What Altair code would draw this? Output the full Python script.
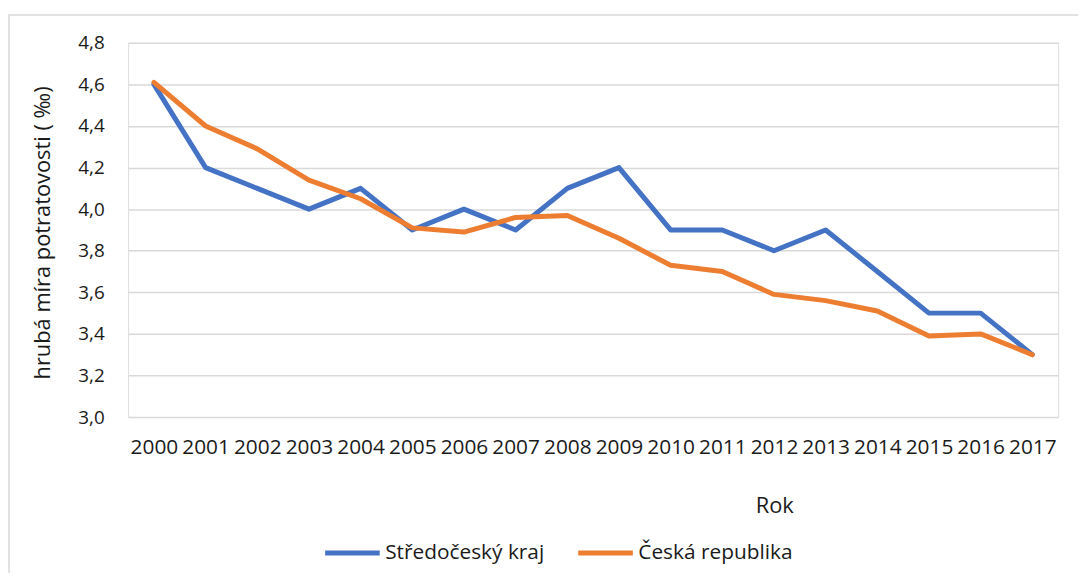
import altair as alt
import pandas as pd

years = [str(y) for y in range(2000, 2018)]
stredocesky = [4.6, 4.2, 4.1, 4.0, 4.1, 3.9, 4.0, 3.9, 4.1, 4.2, 3.9, 3.9, 3.8, 3.9, 3.7, 3.5, 3.5, 3.3]
cr = [4.61, 4.40, 4.29, 4.14, 4.05, 3.91, 3.89, 3.96, 3.97, 3.86, 3.73, 3.70, 3.59, 3.56, 3.51, 3.39, 3.40, 3.30]
series_names = ["Středočeský kraj", "Česká republika"]
series_colors = ["#4472C4", "#ED7D31"]
y_ticks = [3.0, 3.2, 3.4, 3.6, 3.8, 4.0, 4.2, 4.4, 4.6, 4.8]

rows = []
for name, vals in zip(series_names, [stredocesky, cr]):
    for i, (yr, v) in enumerate(zip(years, vals)):
        rows.append({"Rok": yr, "value": v, "series": name, "order": i})
df = pd.DataFrame(rows)

FONT = "Open Sans"
TXT = "#1a1a1a"

frame = alt.Chart(pd.DataFrame({"a": [0]})).mark_rect(
    filled=False, stroke="#d9d9d9", strokeWidth=1.5
).encode(
    x=alt.value(-120), x2=alt.value(1000), y=alt.value(-28), y2=alt.value(620)
)

lines = alt.Chart(df).mark_line(strokeWidth=5, strokeJoin="round", strokeCap="round").encode(
    x=alt.X("Rok:O", sort=years, scale=alt.Scale(padding=0.5),
            axis=alt.Axis(title="Rok", labelAngle=0, ticks=False, tickSize=0, domain=False,
                          labelPadding=20, labelFontSize=21, labelFont=FONT, labelColor=TXT,
                          titleFont=FONT, titleFontSize=22, titleFontWeight="normal", titleColor=TXT,
                          titleX=651, titleY=96, titleAlign="center", titleBaseline="alphabetic",
                          grid=False)),
    y=alt.Y("value:Q", scale=alt.Scale(domain=[3.0, 4.8], nice=False, zero=False),
            axis=alt.Axis(title="hrubá míra potratovosti ( ‰)", values=y_ticks,
                          labelExpr="replace(format(datum.value, '.1f'), '.', ',')",
                          ticks=False, tickSize=0, domain=False, labelPadding=24,
                          labelFontSize=19, labelFont=FONT, labelColor=TXT,
                          gridColor="#d9d9d9", gridWidth=1.5,
                          titleFont=FONT, titleFontSize=22, titleFontWeight="normal", titleColor=TXT,
                          titleX=-79, titleY=191, titleAlign="center", titleBaseline="alphabetic",
                          titleAngle=270)),
    color=alt.Color("series:N", scale=alt.Scale(domain=series_names, range=series_colors),
                    legend=alt.Legend(title=None, orient="none", direction="horizontal",
                                      legendX=196, legendY=484,
                                      symbolType="stroke", symbolSize=3025, symbolStrokeWidth=5,
                                      labelFont=FONT, labelFontSize=21, labelColor=TXT,
                                      labelLimit=400, labelOffset=3, columnPadding=23)),
    detail="series:N",
    order="order:Q",
)

chart = alt.layer(frame, lines).properties(
    width=937, height=377,
    autosize=alt.AutoSizeParams(type="none"),
    padding={"left": 121, "top": 33, "right": 20, "bottom": 155},
).configure_view(stroke=None).configure(font=FONT)

chart.save("out.html", embed_options={"renderer": "svg", "actions": False})
